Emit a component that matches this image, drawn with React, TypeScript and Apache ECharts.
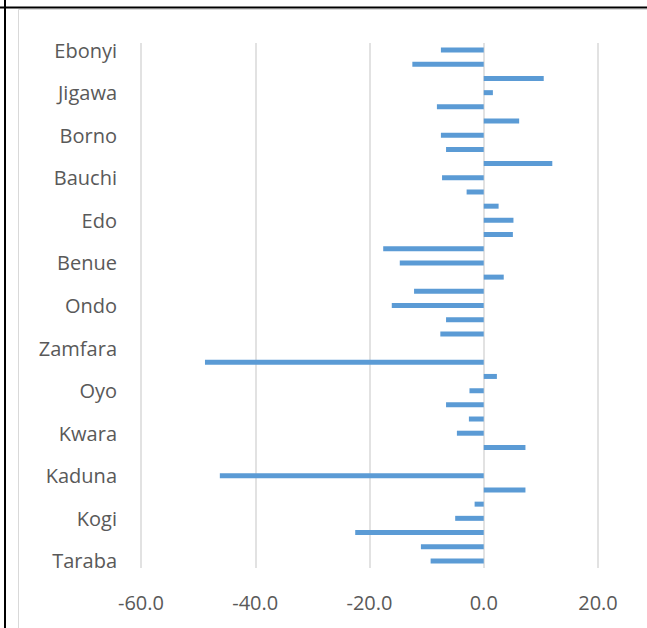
import React, { useEffect, useRef } from "react";
import * as echarts from "echarts";

// Categories from bottom (index 0) to top (index 36)
const states = [
  "Taraba", "Lagos", "Kano", "Kogi", "Rivers", "Delta", "Kaduna", "Katsina", "Ogun",
  "Kwara", "Osun", "Ekiti", "Oyo", "Plateau", "Sokoto", "Zamfara", "Kebbi", "Niger",
  "Ondo", "Nasarawa", "FCT", "Benue", "Gombe", "Cross River", "Edo", "Enugu", "Adamawa",
  "Bauchi", "Yobe", "Akwa Ibom", "Borno", "Anambra", "Imo", "Jigawa", "Abia", "Bayelsa",
  "Ebonyi",
];

const values = [
  -9.3, -11.0, -22.5, -5.0, -1.6, 7.3, -46.2, 0, 7.3,
  -4.7, -2.6, -6.6, -2.5, 2.3, -48.8, 0, -7.6, -6.6,
  -16.1, -12.2, 3.5, -14.7, -17.6, 5.1, 5.2, 2.6, -3.0,
  -7.3, 12.0, -6.6, -7.5, 6.2, -8.2, 1.6, 10.5, -12.5,
  -7.5,
];

const xMin = -60;
const xMax = 20;
const xStep = 20;

export default function App() {
  const ref = useRef<HTMLDivElement>(null);
  useEffect(() => {
    if (!ref.current) return;
    const chart = echarts.init(ref.current, undefined, { renderer: "svg" });
    const font = "'Open Sans', 'Liberation Sans', sans-serif";
    chart.setOption({
      animation: false,
      backgroundColor: "#ffffff",
      grid: { left: 141, right: 49, top: 43, bottom: 60 },
      xAxis: {
        type: "value",
        min: xMin,
        max: xMax,
        interval: xStep,
        axisLine: { show: false },
        axisTick: { show: false },
        axisLabel: {
          formatter: (v: number) => v.toFixed(1),
          color: "#595959",
          fontSize: 20,
          fontFamily: font,
          margin: 24,
        },
        splitLine: { show: true, lineStyle: { color: "#D9D9D9", width: 1.5 } },
      },
      yAxis: {
        type: "category",
        data: states,
        axisLine: { show: false },
        axisTick: { show: false },
        splitLine: { show: false },
        axisLabel: {
          interval: 2,
          color: "#595959",
          fontSize: 20,
          fontFamily: font,
          margin: 24,
        },
      },
      series: [
        {
          type: "bar",
          data: values,
          barWidth: 5,
          itemStyle: { color: "#5B9BD5" },
        },
      ],
      graphic: [
        {
          type: "rect",
          shape: { x: 18.5, y: 9.5, width: 700, height: 700 },
          style: { fill: "none", stroke: "#D9D9D9", lineWidth: 1 },
          silent: true,
        },
        {
          type: "line",
          shape: { x1: 0, y1: 7.5, x2: 647, y2: 7.5 },
          style: { stroke: "#000000", lineWidth: 2 },
          silent: true,
        },
        {
          type: "line",
          shape: { x1: 5, y1: 0, x2: 5, y2: 628 },
          style: { stroke: "#000000", lineWidth: 2 },
          silent: true,
        },
      ],
    });
    return () => chart.dispose();
  }, []);
  return (
    <div
      ref={ref}
      style={{ position: "fixed", left: 0, top: 0, width: 647, height: 628 }}
    />
  );
}
